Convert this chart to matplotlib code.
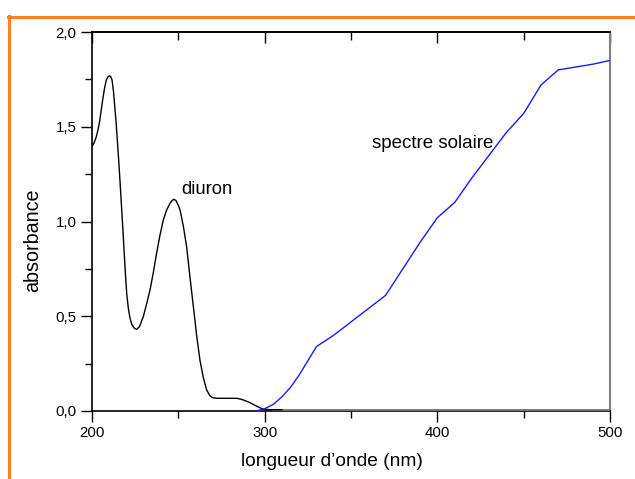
import matplotlib
matplotlib.use("Agg")
import matplotlib.pyplot as plt
from matplotlib.lines import Line2D

plt.rcParams['font.family'] = ['Liberation Sans', 'DejaVu Sans']

# --- data ---
diuron_nm = [200, 201.2, 202.5, 203.5, 204.4, 205.3, 206.3, 207.3, 208.3, 209.3, 210.2,
             211.0, 211.6, 212.4, 213.1, 213.9, 214.6, 215.3, 216.0, 216.7, 217.4,
             218.5, 219.3, 220.1, 221.0, 222.0, 223.0, 224.5, 225.9, 227.5, 229.7, 231.5,
             233.6, 235.5, 237.4, 239.3, 241.3, 243.2, 245.2, 246.5, 247.5, 248.7,
             250.0, 251.0, 253.0, 254.8, 256.7, 258.7, 260.6, 262.5, 264.5, 266.4,
             268.3, 270.0, 272.2, 278.0, 283.8, 286.0, 288.0, 291.5, 295.0, 297.0,
             299.2, 303.0, 306.9, 310.0]
diuron_abs = [1.395, 1.415, 1.447, 1.485, 1.527, 1.585, 1.650, 1.705, 1.747, 1.765, 1.769,
              1.762, 1.747, 1.69, 1.615, 1.53, 1.439, 1.345, 1.245, 1.14, 1.034,
              0.86, 0.73, 0.62, 0.545, 0.49, 0.458, 0.437, 0.431, 0.445, 0.498, 0.56,
              0.639, 0.73, 0.832, 0.925, 1.008, 1.06, 1.096, 1.112, 1.117, 1.11,
              1.085, 1.061, 0.97, 0.867, 0.71, 0.551, 0.40, 0.269, 0.175, 0.111,
              0.08, 0.07, 0.067, 0.067, 0.067, 0.063, 0.057, 0.044, 0.027, 0.018,
              0.010, 0.007, 0.007, 0.007]

baseline_nm = [305, 350, 400, 450, 500]
baseline_abs = [0.007, 0.007, 0.007, 0.007, 0.007]

solar_nm = [295, 300, 305, 310, 315, 320, 325, 330, 340, 350, 370, 380, 390, 400,
            410, 420, 430, 440, 450, 460, 470, 490, 500]
solar_abs = [0.0, 0.012, 0.035, 0.075, 0.125, 0.19, 0.265, 0.34, 0.40, 0.47, 0.61,
             0.75, 0.89, 1.02, 1.10, 1.23, 1.35, 1.47, 1.57, 1.72, 1.80, 1.83, 1.85]

x_major = [200, 300, 400, 500]
x_major_labels = ["200", "300", "400", "500"]
x_minor = [250, 350, 450]
y_major = [0.0, 0.5, 1.0, 1.5, 2.0]
y_major_labels = ["0,0", "0,5", "1,0", "1,5", "2,0"]
y_minor = [0.25, 0.75, 1.25, 1.75]

fig = plt.figure(figsize=(6.35, 4.79), dpi=100)
ax = fig.add_axes([92/635, 1-411/479, 518/635, 379/479])

ax.plot(baseline_nm, baseline_abs, color='#707070', lw=2.0, zorder=2.6)
ax.plot(diuron_nm, diuron_abs, color='black', lw=1.0, zorder=3)
ax.plot(solar_nm, solar_abs, color='#1a1aff', lw=1.0, zorder=4)

ax.set_xlim(200, 500)
ax.set_ylim(0, 2.0)

ax.set_xticks(x_major)
ax.set_xticklabels(x_major_labels)
ax.set_xticks(x_minor, minor=True)
ax.set_yticks(y_major)
ax.set_yticklabels(y_major_labels)
ax.set_yticks(y_minor, minor=True)

ax.tick_params(axis='both', which='major', direction='out', length=8, width=1,
               labelsize=10.8, pad=3)
ax.tick_params(axis='both', which='minor', direction='out', length=5, width=1)
ax.tick_params(axis='x', top=False)
ax.tick_params(axis='y', right=False)

sec = ax.secondary_xaxis('top')
sec.set_xticks(x_major)
sec.set_xticks(x_minor, minor=True)
sec.tick_params(which='major', direction='in', length=8, width=1, labeltop=False)
sec.tick_params(which='minor', direction='in', length=6, width=1)
sec.spines['top'].set_linewidth(1.2)

for s in ['left', 'bottom']:
    ax.spines[s].set_linewidth(1.2)
ax.spines['top'].set_linewidth(1.2)
ax.spines['right'].set_color('#808080')
ax.spines['right'].set_linewidth(1.5)

ax.set_xlabel("longueur d\u2019onde (nm)", fontsize=13.8)
ax.xaxis.set_label_coords(0.463, -0.11)
ax.set_ylabel("absorbance", fontsize=14.2)
ax.yaxis.set_label_coords(-0.097, 0.45)

ax.text(251.4, 1.145, "diuron", fontsize=13.3, va='baseline', ha='left')
ax.text(362, 1.386, "spectre solaire", fontsize=13.5, va='baseline', ha='left')

# orange frame lines (top and left)
fig.add_artist(Line2D([8/635, 1.0], [1-17/479, 1-17/479], color='#ff7f27', lw=2.2,
                      transform=fig.transFigure))
fig.add_artist(Line2D([9/635, 9/635], [0, 1-16/479], color='#ff7f27', lw=2.2,
                      transform=fig.transFigure))

fig.savefig("out.png", dpi=100)
